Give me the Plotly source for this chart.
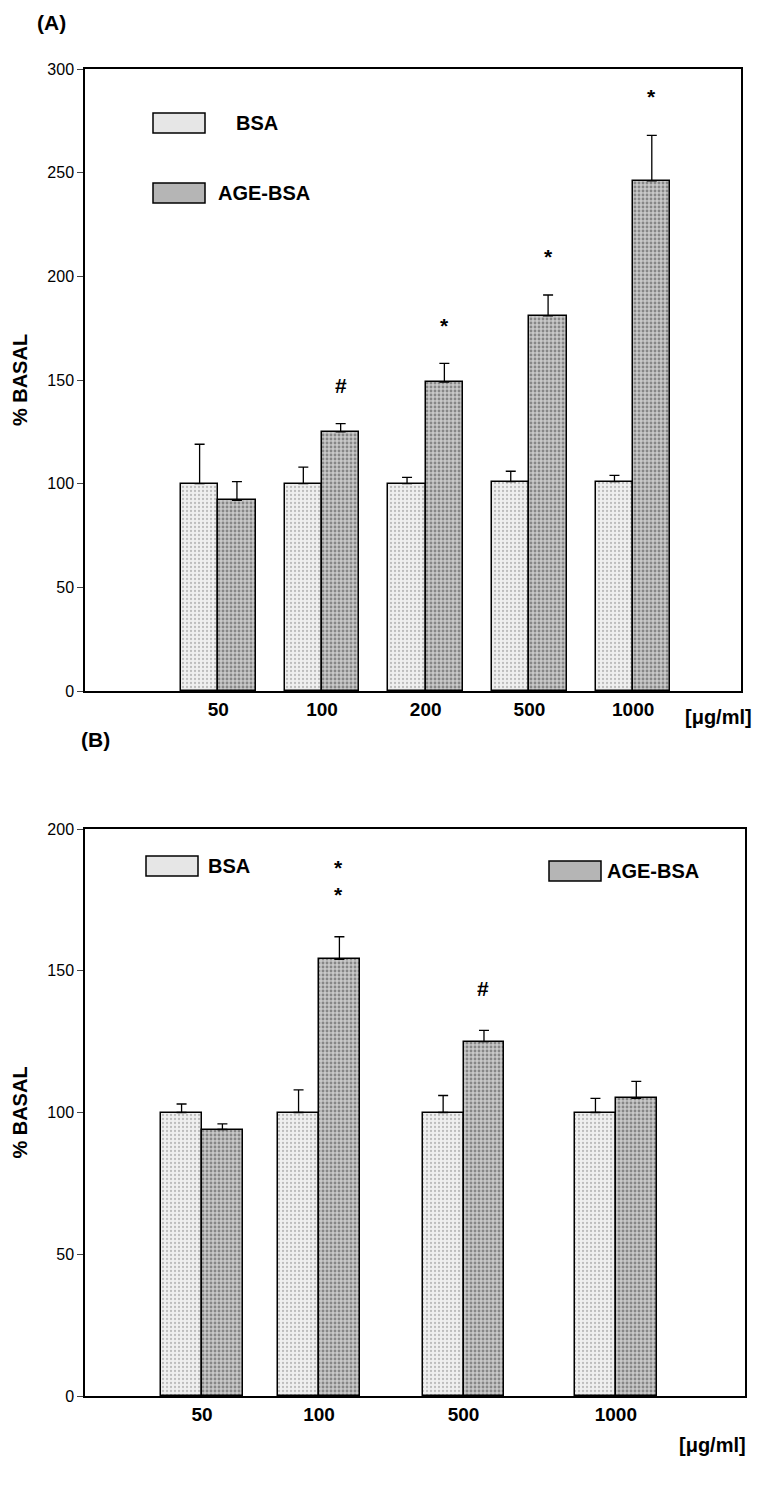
import plotly.graph_objects as go

# panel A
a_labels = ['50', '100', '200', '500', '1000']
a_pos = [1, 2, 3, 4, 5]
a_bsa = [100, 100, 100, 101, 101]
a_bsa_err = [19, 8, 3, 5, 3]
a_age = [92, 125, 149, 181, 246]
a_age_err = [9, 4, 9, 10, 22]
a_marks = ['', '#', '*', '*', '*']

# panel B
b_labels = ['50', '100', '500', '1000']
b_pos = [1, 2.06, 3.37, 4.75]
b_bsa = [100, 100, 100, 100]
b_bsa_err = [3, 8, 6, 5]
b_age = [94, 154, 125, 105]
b_age_err = [2, 8, 4, 6]
b_marks = ['', '*<br>*', '#', '']

W, H = 771, 1512
font = dict(family='Liberation Sans, Arial', color='black')
fig = go.Figure()

# page offset of the rendered figure is about 7px
def px(x):
    return (x - 7) / W

def py(y):
    return 1 - (y - 7) / H

def bars(xs, bsa, be, age, ae, xa, ya, w):
    common = dict(xaxis=xa, yaxis=ya, width=w, showlegend=False)
    fig.add_trace(go.Bar(x=xs, y=bsa, offset=-w, **common,
        marker=dict(color='#efefef', line=dict(color='black', width=1.5),
                    pattern=dict(shape='.', fgcolor='#888', size=4, solidity=0.25)),
        error_y=dict(type='data', array=be, arrayminus=[0]*len(be), symmetric=False,
                     color='black', thickness=1.3, width=5)))
    fig.add_trace(go.Bar(x=xs, y=age, offset=0, **common,
        marker=dict(color='#c8c8c8', line=dict(color='black', width=1.5),
                    pattern=dict(shape='.', fgcolor='#444', size=4, solidity=0.4)),
        error_y=dict(type='data', array=ae, arrayminus=[0]*len(ae), symmetric=False,
                     color='black', thickness=1.3, width=5)))

bars(a_pos, a_bsa, a_bsa_err, a_age, a_age_err, 'x', 'y', 0.36)
bars(b_pos, b_bsa, b_bsa_err, b_age, b_age_err, 'x2', 'y2', 0.37)

for xs, ys, es, ms, xa, ya, gap in [(a_pos, a_age, a_age_err, a_marks, 'x', 'y', 12),
                                   (b_pos, b_age, b_age_err, b_marks, 'x2', 'y2', 10)]:
    for x, y, e, m in zip(xs, ys, es, ms):
        if m:
            fig.add_annotation(x=x + 0.18, y=y + e + gap, xref=xa, yref=ya, text='<b>%s</b>' % m,
                               showarrow=False, yanchor='bottom', font=dict(size=21, **font))

ax = dict(showline=True, linecolor='black', linewidth=1.5, mirror=True, showgrid=False,
          zeroline=False, automargin=False, tickfont=dict(size=19, **font))
yt = dict(text='<b>% BASAL</b>', font=dict(size=20, **font), standoff=14)
fig.update_layout(
    width=W, height=H, margin=dict(l=0, r=0, t=0, b=0, autoexpand=False),
    plot_bgcolor='white', paper_bgcolor='white', bargap=0,
    xaxis=dict(ax, domain=[px(84), px(740)], range=[-0.285, 6.04], anchor='y',
               tickvals=a_pos, ticktext=['<b>%s</b>' % t for t in a_labels], ticks=''),
    yaxis=dict(ax, domain=[py(690), py(68)], range=[0, 300], dtick=50, ticks='outside',
               ticklen=6, anchor='x', tickfont=dict(size=16, **font), title=yt),
    xaxis2=dict(ax, domain=[px(84), px(744)], range=[-0.06, 5.92], anchor='y2',
                tickvals=b_pos, ticktext=['<b>%s</b>' % t for t in b_labels], ticks=''),
    yaxis2=dict(ax, domain=[py(1395), py(828)], range=[0, 200], dtick=50, ticks='outside',
                ticklen=6, anchor='x2', tickfont=dict(size=16, **font), title=yt),
)

def text(x, y, t, size=20):
    fig.add_annotation(x=px(x), y=py(y), xref='paper', yref='paper', text='<b>%s</b>' % t,
                       showarrow=False, xanchor='left', yanchor='middle', font=dict(size=size, **font))

text(34, 22, '(A)', 21)
text(78, 738, '(B)', 21)
text(682, 716, '[μg/ml]', 20)
text(676, 1444, '[μg/ml]', 20)

def legbox(x0, y0, light):
    fig.add_shape(type='rect', xref='paper', yref='paper', x0=px(x0), x1=px(x0 + 52),
                  y0=py(y0 + 20), y1=py(y0), line=dict(color='black', width=1.5),
                  fillcolor='#e6e6e6' if light else '#b5b5b5')

legbox(152, 112, True); text(233, 122, 'BSA')
legbox(152, 182, False); text(215, 192, 'AGE-BSA')
legbox(145, 855, True); text(205, 865, 'BSA')
legbox(548, 860, False); text(604, 870, 'AGE-BSA')

fig.write_html('out.html')
